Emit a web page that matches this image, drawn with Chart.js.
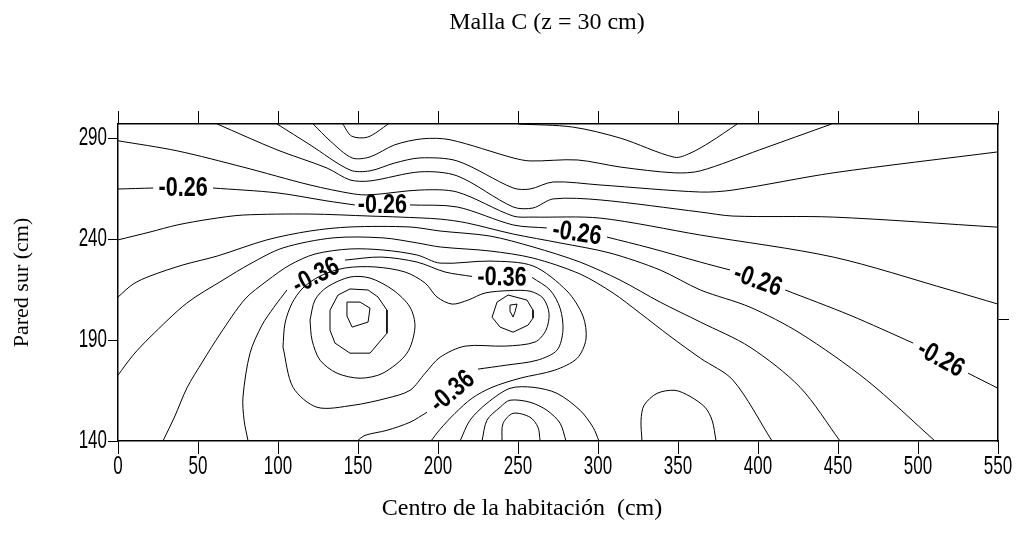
<!DOCTYPE html>
<html>
<head>
<meta charset="utf-8">
<title>Malla C (z = 30 cm)</title>
<script src="https://cdn.jsdelivr.net/npm/chart.js@4.4.0/dist/chart.umd.min.js"></script>
<style>
  html, body { margin: 0; padding: 0; background: #fff; }
</style>
</head>
<body>
<canvas id="chart" width="1021" height="538"></canvas>
<script>
// Axis ranges and tick values (cm)
const xRange = [0, 550];
const yRange = [140, 297];
const xTicks = [0, 50, 100, 150, 200, 250, 300, 350, 400, 450, 500, 550];
const yTicks = [140, 190, 240, 290];
const rightMarks = [200];

const chartTitle = 'Malla C (z = 30 cm)';
const xTitle = 'Centro de la habitación  (cm)';
const yTitle = 'Pared sur (cm)';

// Isolines, [x, y] in cm. Lines with labels are split into pieces, one label per gap.
const m016Cup = [[140.5, 297], [146, 291], [156, 290.5], [169, 297]];
const m016Top = [[250, 297], [284, 295.5], [314, 290], [348, 280.5], [357.5, 282.5], [370, 288], [387, 297]];
const m018 = [[122, 297], [132.5, 288.7], [146.3, 280.2], [157.5, 280.7], [173, 286.7], [190.6, 289.7], [207.5, 289.2],
  [247, 280.2], [257.5, 278.7], [287, 279.2], [313.8, 275.7], [348, 272.8], [364, 273.8], [401, 284.2], [446, 297]];
const m020 = [[99.4, 297], [120, 286.7], [145, 274.2], [157.5, 273.8], [173, 277.7], [188.8, 280.2], [212, 278.7],
  [247, 265.3], [257.5, 264.8], [272, 268.3], [301.3, 266.8], [364, 263.3], [384.4, 264.3], [447, 272.8], [550, 283.2]];
const m022 = [[62, 297], [99.4, 284.2], [130.6, 275.2], [145, 269.3], [157.5, 268.8], [188.8, 273.3], [212, 271.3],
  [247, 255.9], [259.4, 255.4], [272, 259.9], [301.3, 259.4], [364, 253.4], [384.4, 251.4], [447, 250.9], [550, 245.9]];
const m024 = [[0, 288.7], [37, 283.7], [78, 275.7], [120, 266.8], [147, 262.4], [157.5, 261.9], [188.8, 264.3], [212, 263.3],
  [247, 251.4], [259.4, 250.9], [301.3, 250.4], [364, 242], [447, 231.1], [520, 214.8], [550, 207.8]];
const m026 = [
  [[0, 264.8], [22, 265.3]],
  [[59.4, 265.3], [99.4, 262.9], [130.6, 258.9], [148, 256.9]],
  [[182.5, 256.9], [212, 255.9], [247, 247], [268, 245.5]],
  [[305.6, 241], [332.5, 235.6], [364, 228.6], [382.5, 224.7]],
  [[417, 214.8], [457.5, 202.3], [497, 188.5]],
  [[531.3, 173.6], [550, 166.1]]
];
const m028 = [[0, 239.6], [20, 243.5], [37, 247], [57.5, 249.9], [78, 251.9], [120, 252.4], [157.5, 251.4], [176.3, 250.9],
  [201.3, 249.9], [218, 248], [247, 242.5], [276.3, 238.1], [307.5, 233.1], [338.8, 224.7], [364, 214.8], [395, 206.3],
  [426.3, 193.4], [468, 170.1], [510.6, 140]];
const m030 = [[0, 211.3], [9.4, 217.7], [20, 221.7], [40.6, 227.2], [62, 231.6], [93, 239.6], [120, 244], [145, 246],
  [182.5, 246], [201.3, 244], [232.5, 241.5], [259.4, 236.1], [288.8, 228.6], [313.8, 219.7], [338.8, 208.8], [364, 198.9],
  [395, 186.5], [426.3, 166.6], [451.3, 140]];
const m032 = [[0, 172.6], [9.4, 182.5], [20, 191.4], [43, 208.3], [65.6, 219.7], [82.5, 227.7], [103, 235.6], [134.4, 240.6],
  [165.6, 240.6], [187, 238.1], [201.3, 236.1], [232.5, 234.1], [259.4, 230.6], [288.8, 222.7], [309.4, 213.3], [326.3, 203.3],
  [345, 191.9], [364, 181], [384.4, 170.1], [408.8, 140]];
const m034 = [[28.1, 140], [35.6, 152.4], [43.1, 166.3], [53.1, 179.6], [63.8, 193], [79.4, 210.3], [93.1, 219.3], [107.5, 227.2],
  [123.1, 232.6], [145, 235.1], [165.6, 234.6], [187, 232.1], [201.3, 228.1], [232.5, 229.1], [259.4, 226.7], [280.6, 214.3],
  [290.6, 201.9], [292.5, 190.5], [287, 181], [273, 175.1], [251.3, 171.1], [233.8, 166.6], [221.3, 161.2], [210.6, 153.7],
  [201.3, 145.8], [195.6, 140]];
const m036 = [
  [[81.3, 140], [78.8, 150.3], [78.1, 161.7], [82.5, 183.5], [90, 197.4], [97.5, 206.3], [105.6, 214.8]],
  [[141.9, 229.6], [164.4, 231.1], [187, 228.6], [204.4, 223.7], [221.3, 221.5]],
  [[258.8, 221], [270, 214.8], [276.3, 205.8], [278.1, 194.9], [274.4, 185], [262, 180], [242, 177.5], [225, 175.6]],
  [[193.1, 154.2], [182.5, 149.3], [168.1, 145.3], [154.4, 142.8], [149.4, 140]]
];
const m038 = [[103.1, 186.5], [104.4, 198.4], [108.8, 208.3], [115.6, 215.8], [126.3, 221.7], [142, 225.7], [160.6, 226.2],
  [179.4, 223.7], [192, 218.2], [199.4, 211.3], [208.8, 207.8], [218.8, 209.8], [229.4, 213.3], [245, 214.5], [257.5, 214.2],
  [265.6, 210.8], [269.4, 203.3], [267.5, 194.9], [260.6, 189], [242, 187], [217, 187], [201.3, 181.5], [192, 173.6],
  [182.5, 165.1], [168.1, 161.2], [147, 157.7], [124.4, 156.7], [109.4, 166.6], [103.1, 186.5]];
const m040West = [[120, 199.9], [123.1, 209.8], [130.6, 216.2], [145, 221.2], [157.5, 220.7], [171.9, 214.8], [182.5, 206.3],
  [185.6, 196.4], [180.6, 183.5], [165.6, 173.6], [151.3, 171.1], [136.9, 173.6], [126.3, 180], [121.3, 189.9], [120, 199.9]];
const m040East = [[233.8, 201.3], [236.9, 208.8], [243.8, 212.3], [255.6, 209.8], [259.4, 204.8], [259.4, 200.9], [256.3, 197.4],
  [246.9, 193.9], [238.8, 196.4], [233.8, 201.3]];
const m042West = [[132.5, 204.8], [137.5, 212.3], [145, 215.3], [156.3, 214.8], [162.5, 211.3], [168.1, 204.8], [168.1, 193.4],
  [157.5, 183.5], [145, 183.5], [135.6, 188.5], [132.5, 194.9], [132.5, 204.8]];
const m042East = [[245, 207.3], [249.4, 207.8], [248.1, 203.9], [246.9, 201.4], [245, 204.3], [245, 207.3]];
const m044West = [[143.1, 208.8], [151.3, 208.8], [157.5, 205.8], [156.3, 198.9], [146.3, 196.4], [143.1, 201.9], [143.1, 208.8]];
// closed bumps on the lower edge
const m028Floor = [[240, 140], [240.6, 148.6], [246.9, 153.7], [257.5, 151.8], [262.5, 146.8], [263.8, 140]];
const m030Floor = [[227.5, 140], [230.6, 150.3], [238.8, 156.7], [245, 160.2], [257.5, 159.2], [268.1, 155.2], [276.3, 148.8], [280, 140]];
const m032Floor = [[213.8, 140], [220, 150.3], [230.6, 158.7], [245, 166.1], [259.4, 166.6], [274.4, 163.6], [288.8, 155.2],
  [296.9, 146.8], [300.6, 140]];
const m034Floor = [[327.5, 140], [326.9, 150.3], [328.8, 157.7], [336.9, 163.6], [348.1, 165.1], [357.5, 162.1], [366.9, 156.7],
  [371.3, 150.3], [373.8, 140]];

const labelledLevels = [-0.26, -0.36];

// level, pieces, smooth
const isolines = [
  [-0.16, [m016Cup], true], [-0.16, [m016Top], true],
  [-0.18, [m018], true], [-0.20, [m020], true], [-0.22, [m022], true], [-0.24, [m024], true],
  [-0.26, m026, true], [-0.28, [m028], true], [-0.30, [m030], true], [-0.32, [m032], true],
  [-0.34, [m034], true], [-0.36, m036, true], [-0.38, [m038], true],
  [-0.40, [m040West], true], [-0.40, [m040East], false],
  [-0.42, [m042West], false], [-0.42, [m042East], false], [-0.44, [m044West], false],
  [-0.28, [m028Floor], true], [-0.30, [m030Floor], true], [-0.32, [m032Floor], true], [-0.34, [m034Floor], true]
];

// join pieces with a null point so the line breaks where a label goes
function joinPieces(pieces) {
  const out = [];
  pieces.forEach((p, i) => {
    if (i > 0) out.push([p[0][0], null]);
    p.forEach(pt => out.push(pt));
  });
  return out;
}

const datasets = isolines.map(([level, pieces, smooth]) => ({
  label: level.toFixed(2),
  data: joinPieces(pieces),
  pieces: pieces,
  labelText: labelledLevels.includes(level) ? level.toFixed(2) : null,
  borderColor: '#000',
  borderWidth: 1,
  pointRadius: 0,
  fill: false,
  spanGaps: false,
  tension: smooth ? 0.3 : 0
}));

const sansFont = "'Liberation Sans', Arial, sans-serif";
const serifFont = "'Liberation Serif', 'Times New Roman', serif";

// no narrow sans installed, so squeeze a regular one
function narrowText(ctx, text, x, y, angle, squeeze) {
  ctx.save();
  ctx.translate(x, y);
  ctx.rotate(angle);
  ctx.scale(squeeze, 1);
  ctx.fillText(text, 0, 0);
  ctx.restore();
}

// Level values written in the gaps of the labelled lines
const isolineLabels = {
  id: 'isolineLabels',
  afterDatasetsDraw(chart) {
    const { ctx, scales: { x, y } } = chart;
    ctx.save();
    ctx.font = 'bold 27px ' + sansFont;
    ctx.fillStyle = '#000';
    ctx.textAlign = 'center';
    ctx.textBaseline = 'middle';
    chart.data.datasets.forEach(ds => {
      if (!ds.labelText) return;
      for (let i = 0; i < ds.pieces.length - 1; i++) {
        const a = ds.pieces[i][ds.pieces[i].length - 1];
        const b = ds.pieces[i + 1][0];
        const ax = x.getPixelForValue(a[0]), ay = y.getPixelForValue(a[1]);
        const bx = x.getPixelForValue(b[0]), by = y.getPixelForValue(b[1]);
        let ang = Math.atan2(by - ay, bx - ax);
        if (ang > Math.PI / 2) ang -= Math.PI;
        if (ang < -Math.PI / 2) ang += Math.PI;
        narrowText(ctx, ds.labelText, (ax + bx) / 2, (ay + by) / 2 + 1, ang, 0.8);
      }
    });
    ctx.restore();
  }
};

// Tick numbers, heading and x caption
const axisText = {
  id: 'axisText',
  afterDraw(chart) {
    const { ctx, scales: { x, y } } = chart;
    ctx.save();
    ctx.fillStyle = '#000';
    ctx.textBaseline = 'middle';
    ctx.font = '25px ' + sansFont;
    ctx.textAlign = 'center';
    xTicks.forEach(v => narrowText(ctx, String(v), x.getPixelForValue(v), y.bottom + 26, 0, 0.68));
    ctx.textAlign = 'right';
    yTicks.forEach(v => narrowText(ctx, String(v), x.left - 11, y.getPixelForValue(v), 0, 0.68));

    ctx.textAlign = 'center';
    ctx.font = '24px ' + serifFont;
    ctx.fillText(chartTitle, 547, 23);
    ctx.fillText(xTitle, 522, 509);
    ctx.restore();
  }
};

function fixedTicks(values) {
  return scale => { scale.ticks = values.map(v => ({ value: v })); };
}

new Chart(document.getElementById('chart'), {
  type: 'line',
  data: { datasets: datasets },
  options: {
    responsive: false,
    animation: false,
    devicePixelRatio: 1,
    layout: { padding: { top: 111, right: 0, bottom: 0, left: 0 } },
    plugins: {
      legend: { display: false },
      tooltip: { enabled: false },
      title: { display: false }
    },
    scales: {
      x: {
        type: 'linear',
        position: 'bottom',
        min: xRange[0],
        max: xRange[1],
        afterBuildTicks: fixedTicks(xTicks),
        afterFit: s => { s.height = 97; },
        ticks: { display: false },
        grid: { drawOnChartArea: false, tickLength: 13, tickColor: '#000', tickWidth: 1 },
        border: { display: true, color: '#000', width: 1.5 }
      },
      x2: {
        type: 'linear',
        position: 'top',
        min: xRange[0],
        max: xRange[1],
        afterBuildTicks: fixedTicks(xTicks),
        afterFit: s => { s.height = 13; },
        ticks: { display: false },
        grid: { drawOnChartArea: false, tickLength: 13, tickColor: '#000', tickWidth: 1 },
        border: { display: true, color: '#000', width: 1.5 }
      },
      y: {
        type: 'linear',
        position: 'left',
        min: yRange[0],
        max: yRange[1],
        afterBuildTicks: fixedTicks(yTicks),
        afterFit: s => { s.width = 118; },
        ticks: { display: false },
        grid: { drawOnChartArea: false, tickLength: 10, tickColor: '#000', tickWidth: 1 },
        border: { display: true, color: '#000', width: 1.5 },
        title: { display: true, text: yTitle, color: '#000', padding: { top: 9, bottom: 0 }, font: { family: serifFont, size: 22 } }
      },
      y2: {
        type: 'linear',
        position: 'right',
        min: yRange[0],
        max: yRange[1],
        afterBuildTicks: fixedTicks(rightMarks),
        afterFit: s => { s.width = 23; },
        ticks: { display: false },
        grid: { drawOnChartArea: false, tickLength: 11, tickColor: '#000', tickWidth: 1 },
        border: { display: true, color: '#000', width: 1.5 }
      }
    }
  },
  plugins: [isolineLabels, axisText]
});
</script>
</body>
</html>
